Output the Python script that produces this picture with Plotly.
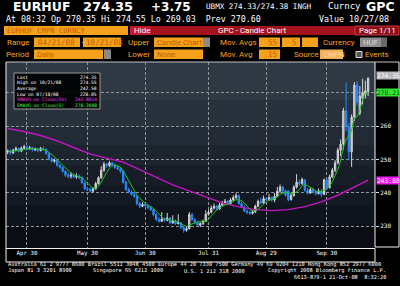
import plotly.graph_objects as go
import pandas as pd

# ---------------- data ----------------
dates = [d.strftime("%Y-%m-%d") for d in pd.bdate_range("2008-04-21", "2008-10-21")]

open_ = [252.3, 252.6, 252.0, 252.8, 253.3, 252.5, 253.4, 253.8, 253.2, 253.5,
         252.9, 253.1, 252.7, 253.3, 253.0, 251.8, 250.2, 249.5, 249.8, 248.2,
         247.6, 246.5, 245.3, 245.0, 245.4, 244.8, 245.0, 244.6, 243.0, 241.3,
         241.0, 240.5, 241.2, 242.8, 244.5, 246.8, 248.6, 248.2, 249.0, 248.3,
         247.6, 247.2, 246.5, 243.2, 241.0, 240.3, 239.6, 239.0, 236.8, 236.0,
         236.5, 236.2, 235.6, 235.0, 233.5, 232.0, 231.5, 232.2, 231.8, 232.5,
         231.0, 231.6, 230.8, 231.0, 229.6, 228.8, 229.3, 233.5, 232.0, 231.2,
         230.4, 230.8, 231.5, 233.6, 234.2, 235.5, 236.0, 235.2, 236.4, 236.9,
         237.5, 236.8, 237.9, 238.6, 239.2, 236.8, 235.8, 234.6, 234.2, 233.9,
         234.3, 236.0, 237.5, 237.0, 238.3, 238.0, 238.6, 237.9, 239.0, 240.5,
         241.8, 240.6, 240.5, 238.0, 239.2, 241.7, 243.2, 242.8, 243.8, 240.8,
         240.0, 241.0, 240.4, 239.8, 240.6, 239.6, 243.9, 241.6, 244.8, 246.8,
         249.0, 252.8, 254.6, 264.6, 259.8, 252.3, 262.7, 272.3, 264.0, 268.2,
         269.5, 270.35]

high = [253.0, 253.1, 253.2, 253.9, 253.6, 253.9, 254.4, 254.2, 254.1, 253.8,
        253.6, 253.4, 253.8, 253.9, 253.3, 252.0, 250.6, 250.3, 250.0, 248.6,
        247.9, 246.8, 245.9, 246.2, 245.8, 245.9, 245.5, 244.9, 243.4, 241.8,
        241.6, 241.7, 243.3, 245.0, 248.0, 249.3, 249.0, 249.6, 249.3, 248.7,
        248.3, 247.6, 246.8, 243.6, 241.5, 240.8, 240.2, 239.3, 237.4, 237.2,
        237.0, 236.6, 236.1, 235.3, 233.9, 232.8, 234.2, 232.6, 234.0, 232.8,
        233.3, 232.0, 233.6, 231.3, 230.0, 229.9, 234.3, 234.0, 232.4, 231.6,
        231.2, 232.0, 234.8, 234.9, 236.2, 236.8, 236.4, 237.0, 237.6, 238.2,
        237.9, 238.5, 239.3, 240.0, 239.6, 237.3, 236.2, 235.0, 234.6, 234.9,
        236.5, 238.0, 238.6, 239.2, 238.8, 239.7, 239.0, 240.0, 241.8, 242.5,
        242.1, 241.0, 240.8, 239.8, 242.3, 245.6, 244.0, 244.6, 244.2, 241.4,
        241.6, 241.5, 240.8, 241.3, 241.1, 244.3, 244.4, 245.5, 247.5, 249.8,
        253.5, 256.0, 265.5, 273.0, 261.0, 263.5, 273.2, 273.5, 272.0, 274.2,
        273.6, 274.55]

low = [251.6, 251.4, 251.7, 252.5, 252.1, 252.2, 253.0, 252.8, 252.9, 252.4,
       252.5, 252.2, 252.4, 252.6, 251.4, 249.8, 249.1, 249.0, 247.9, 247.2,
       246.1, 244.8, 244.5, 244.3, 244.4, 244.2, 244.1, 242.8, 240.8, 240.5,
       240.2, 240.3, 241.0, 242.5, 244.2, 246.3, 247.5, 247.8, 247.9, 247.2,
       246.8, 246.0, 242.8, 240.6, 239.9, 239.2, 238.6, 236.3, 235.5, 235.7,
       235.8, 235.1, 234.6, 233.0, 231.6, 231.1, 231.3, 231.4, 231.5, 230.6,
       230.8, 230.4, 230.5, 229.2, 228.05, 228.4, 229.1, 231.6, 230.9, 229.9,
       229.8, 230.4, 231.3, 233.2, 233.9, 235.0, 234.8, 234.9, 236.0, 236.5,
       236.4, 236.5, 237.5, 238.2, 236.5, 235.4, 234.2, 233.6, 233.4, 233.5,
       234.0, 235.7, 236.6, 236.8, 237.5, 237.6, 237.4, 237.2, 238.7, 240.0,
       240.2, 238.9, 237.5, 237.7, 238.9, 241.3, 242.0, 242.4, 240.3, 239.5,
       239.7, 239.9, 239.2, 239.5, 238.8, 239.3, 241.0, 241.3, 244.4, 246.2,
       248.6, 251.0, 253.0, 258.5, 249.8, 247.8, 261.5, 266.2, 263.2, 266.5,
       268.3, 269.03]

close = [252.6, 252.0, 252.8, 253.3, 252.5, 253.4, 253.8, 253.2, 253.5, 252.9,
         253.1, 252.7, 253.3, 253.0, 251.8, 250.2, 249.5, 249.8, 248.2, 247.6,
         246.5, 245.3, 245.0, 245.4, 244.8, 245.0, 244.6, 243.0, 241.3, 241.0,
         240.5, 241.2, 242.8, 244.5, 246.8, 248.6, 248.2, 249.0, 248.3, 247.6,
         247.2, 246.5, 243.2, 241.0, 240.3, 239.6, 239.0, 236.8, 236.0, 236.5,
         236.2, 235.6, 235.0, 233.5, 232.0, 231.5, 232.2, 231.8, 232.5, 231.0,
         231.6, 230.8, 231.0, 229.6, 228.8, 229.3, 233.5, 232.0, 231.2, 230.4,
         230.8, 231.5, 233.6, 234.2, 235.5, 236.0, 235.2, 236.4, 236.9, 237.5,
         236.8, 237.9, 238.6, 239.2, 236.8, 235.8, 234.6, 234.2, 233.9, 234.3,
         236.0, 237.5, 237.0, 238.3, 238.0, 238.6, 237.9, 239.0, 240.5, 241.8,
         240.6, 239.3, 238.0, 239.2, 241.7, 243.2, 242.8, 244.0, 240.8, 240.0,
         241.0, 240.4, 239.8, 240.6, 239.6, 243.9, 241.6, 244.8, 246.8, 249.0,
         252.8, 254.6, 264.6, 259.8, 252.3, 262.7, 272.3, 267.2, 269.0, 269.9,
         270.6, 274.35]

# 55-day simple moving average (includes pre-window history)
ma55_idx = [0, 6, 12, 18, 24, 30, 36, 42, 48, 54, 60, 66, 72, 78, 84, 90, 96,
            102, 108, 114, 120, 126, 131]
ma55_val = [259.3, 258.4, 257.2, 255.6, 253.6, 251.7, 250.4, 249.2, 247.0, 244.6,
            242.4, 240.6, 238.7, 237.0, 235.8, 235.0, 234.7, 235.0, 235.9, 237.3,
            239.3, 241.7, 243.8]

tick_idx = [7, 29, 50, 73, 94, 116]
tick_text = ["Apr 30", "May 30", "Jun 30", "Jul 31", "Aug 29", "Sep 30"]
y_ticks = [230, 240, 250, 260, 270]
y_tick_text = ["230", "240", "250", "260", ""]   # 270 is hidden under the SMA(5) tag

legend_labels = ["Last", "High on 10/21/08", "Average", "Low on 07/18/08",
                 "SMAVG on Close(55)", "SMAVG on Close(5)"]
legend_values = ["274.35", "274.55", "242.50", "228.05", "243.8014", "270.2098"]

# ---------------- geometry helpers ----------------
W, H = 400, 286
ML, MR, MT, MB = 6, 25, 62, 38
PW, PH = W - ML - MR, H - MT - MB
MONO = "DejaVu Sans Mono"
SANS = "Roboto"
BOLD = "DejaVu Sans"


def px(x):
    return (x - ML) / PW


def py(y):
    return 1 - (y - MT) / PH


ma5 = pd.Series(close).rolling(5, min_periods=1).mean().round(3).tolist()

fig = go.Figure()
fig.add_trace(go.Candlestick(
    x=dates, open=open_, high=high, low=low, close=close,
    increasing=dict(line=dict(color="#d6d6d6", width=1), fillcolor="#b0b0b0"),
    decreasing=dict(line=dict(color="#2a8cff", width=1), fillcolor="#1e88ff"),
    whiskerwidth=0, hoverinfo="skip", showlegend=False))
fig.add_trace(go.Scatter(x=[dates[i] for i in ma55_idx], y=ma55_val, mode="lines",
                         line=dict(color="#c414c4", width=1.4), hoverinfo="skip",
                         showlegend=False))
fig.add_trace(go.Scatter(x=dates, y=ma5, mode="lines",
                         line=dict(color="#22c422", width=1), hoverinfo="skip",
                         showlegend=False))

shapes = []
ann = []


def R(x0, y0, x1, y1, fill, line=None, lw=1, layer="above"):
    shapes.append(dict(type="rect", xref="paper", yref="paper",
                       x0=px(x0), x1=px(x1), y0=py(y1), y1=py(y0),
                       fillcolor=fill, layer=layer,
                       line=dict(width=lw if line else 0, color=line or fill)))


def L(x0, y0, x1, y1, color="#e8e8e8", w=1):
    shapes.append(dict(type="line", xref="paper", yref="paper",
                       x0=px(x0), x1=px(x1), y0=py(y0), y1=py(y1),
                       line=dict(color=color, width=w), layer="above"))


def T(x, y, s, size=8.5, color="white", family=MONO, xanchor="left", bold=False,
      bg=None, yref="paper"):
    d = dict(xref="paper", yref=yref, x=px(x), y=(py(y) if yref == "paper" else y),
             text=("<b>%s</b>" % s) if bold else s, showarrow=False,
             xanchor=xanchor, yanchor="middle", borderpad=0,
             font=dict(size=size, color=color, family=family))
    if bg:
        d["bgcolor"] = bg
    ann.append(d)


# background bands of the plot area (dark blue-grey gradient)
bands = [(62, 100, "#2e3944"), (100, 127, "#28323d"), (127, 145, "#222b35"),
         (145, 165, "#1c242e"), (165, 185, "#171e27"), (185, 205, "#131922"),
         (205, 226, "#0f131b"), (226, 248, "#0a0d13")]
for y0, y1, c in bands:
    R(6, y0, 375, y1, c, layer="below")

# ---------------- header ----------------
T(12, 6.8, "EURHUF", size=12.5, family=BOLD, bold=True)
T(82, 6.8, "274.35", size=13, family=BOLD, bold=True)
T(150, 6.8, "+3.75", size=12, family=BOLD, bold=True)
T(205, 6.3, "UBMX 274.33/274.38 INGH", size=7.6)
T(327, 6.3, "Curncy", size=9)
T(365, 6.8, "GPC", size=12.5, family=BOLD, bold=True)

T(5, 19, "At 08:32 Op 270.35 Hi 274.55 Lo 269.03  Prev 270.60", size=8.3)
T(318, 19, "Value 10/27/08", size=8.3)

ORANGE = "#f6a11c"
OTEXT = "#c45c00"
LABEL = "#f7a21b"
R(4, 26, 128, 35, ORANGE)
T(6, 30.5, "EURHUF CMPN CURNCY", size=7.2, color=OTEXT)
R(130, 26, 399, 35, "#a3121d")
R(130, 26, 151, 35, "#c41a2a")
T(133, 30.5, "Hide", size=8, family=SANS)
T(252, 30.5, "GPC - Candle Chart", size=8, family=SANS, xanchor="center")
R(355, 26, 399, 35, "#8c0f19", line="#c83a44")
T(358, 30.5, "Page 1/11", size=8, family=SANS)

# row 4
T(6, 42.3, "Range", size=8, color=LABEL, family=SANS)
R(34, 37.5, 80, 47, ORANGE)
T(37, 42.3, "04/21/08", size=7.6, color=OTEXT)
T(80.5, 42.3, "-", size=8, color="white", family=SANS)
R(83, 37.5, 121, 47, ORANGE)
T(84.5, 42.3, "10/21/08", size=7.6, color=OTEXT)
T(127, 42.3, "Upper", size=8, color=LABEL, family=SANS)
R(154, 37.5, 203, 47, ORANGE)
T(156, 42.3, "Candle Chart", size=7.8, color=OTEXT, family=SANS)
R(203, 37.5, 210, 47, "#8a8a8a")
T(219, 42.3, "Mov. Avgs", size=8, color=LABEL, family=SANS)
R(259, 37.5, 280, 47, ORANGE)
T(278, 42.3, "55", size=7.6, color=OTEXT, xanchor="right")
R(282, 37.5, 300, 47, ORANGE)
T(298, 42.3, "5", size=7.6, color=OTEXT, xanchor="right")
R(302, 37.5, 318, 47, ORANGE)
T(322, 42.3, "Currency", size=8, color=LABEL, family=SANS)
R(360, 37.5, 381, 47, "#8f8f8f")
R(381, 37.5, 387, 47, "#6a6a6a")
T(362, 42.3, "HUF", size=7.8, color="#d8d8d8", family=SANS)

# row 5
T(5, 54, "Period", size=8, color=LABEL, family=SANS)
R(34, 49.5, 103, 59, ORANGE)
T(36, 54, "Daily", size=7.8, color=OTEXT, family=SANS)
R(104, 49.5, 111, 59, "#8a8a8a")
T(127, 54, "Lower", size=8, color=LABEL, family=SANS)
R(154, 49.5, 203, 59, ORANGE)
T(156, 54, "None", size=7.8, color=OTEXT, family=SANS)
T(219, 54, "Mov. Avg", size=8, color=LABEL, family=SANS)
R(259, 49.5, 280, 59, ORANGE)
T(278, 54, "15", size=7.6, color=OTEXT, xanchor="right")
T(293, 54, "Source", size=8, color=LABEL, family=SANS)
R(320, 49.5, 343, 59, "#f3b25a")
T(322, 54, "CMPN", size=7.6, color="#fbd7a6", family=SANS)
R(356, 51.5, 362, 57.5, "#555555", line="#dddddd")
T(364, 54, "Events", size=8, color=LABEL, family=SANS)

# ---------------- frames ----------------
L(6, 62, 399, 62, "#bfc3c8")
L(6, 62, 6, 262, "#f0f0f0")
L(375, 62, 375, 247, "#f0f0f0")
L(399, 62, 399, 247, "#f0f0f0")
L(375, 247, 399, 247, "#f0f0f0")
L(6, 248.5, 375, 248.5, "#f0f0f0")
L(6, 262, 375, 262, "#f0f0f0")
L(375, 248.5, 375, 262, "#f0f0f0")

# legend box
R(14, 73, 100, 109, "rgba(0,0,0,0.9)", line="#9a9a9a")
lc = ["white", "white", "white", "white", "#ff3cff", "#3cff3c"]
for k, (lab, val, c) in enumerate(zip(legend_labels, legend_values, lc)):
    yy = 77.3 + 5.6 * k
    T(16, yy, lab, size=4.6, color=c)
    T(98, yy, val, size=4.6, color=c, xanchor="right")

# price tags on the right axis
T(376, close[-1] + 0.9, "%.2f" % close[-1], size=6.3, color="#ffffff",
  bg="#b8b8b8", yref="y")
T(376, ma5[-1], "%.2f" % ma5[-1], size=6.3, color="#064d06", bg="#33e433", yref="y")
T(376, ma55_val[-1], "%.2f" % ma55_val[-1], size=6.3, color="#ffffff",
  bg="#f01af0", yref="y")

# footer
FS = 5.3
T(7, 264.5, "Australia 61 2 9777 8600 Brazil 5511 3048 4500 Europe 44 20 7330 7500 "
  "Germany 49 69 9204 1210 Hong Kong 852 2977 6000", size=FS)
T(7, 270.5, "Japan 81 3 3201 8900", size=FS)
T(92, 270.5, "Singapore 65 6212 1000", size=FS)
T(183, 270.5, "U.S. 1 212 318 2000", size=FS)
T(387, 270.5, "Copyright 2008 Bloomberg Finance L.P.", size=FS, xanchor="right")
T(387, 276.5, "6613-879-1 21-Oct-08  8:32:20", size=FS, xanchor="right")

GRID = "#8f959c"
fig.update_layout(
    width=W, height=H, margin=dict(l=ML, r=MR, t=MT, b=MB),
    paper_bgcolor="#000000", plot_bgcolor="#0a0d13",
    showlegend=False, shapes=shapes, annotations=ann,
    xaxis=dict(type="category", range=[-0.6, 133.5],
               tickmode="array", tickvals=[dates[i] for i in tick_idx],
               ticktext=tick_text, ticks="", showgrid=True, gridcolor=GRID,
               griddash="3px,2px", gridwidth=1, zeroline=False, showline=False,
               tickfont=dict(size=5.8, color="white", family=MONO),
               rangeslider=dict(visible=False), fixedrange=True),
    yaxis=dict(side="right", range=[223.5, 279.2], tickmode="array",
               tickvals=y_ticks, ticktext=y_tick_text, ticks="outside", ticklen=3,
               tickcolor="#e0e0e0",
               showgrid=True, gridcolor=GRID, griddash="3px,2px", gridwidth=1,
               zeroline=False, showline=False,
               tickfont=dict(size=6, color="white", family=MONO), fixedrange=True),
)

fig.write_html("out.html")
